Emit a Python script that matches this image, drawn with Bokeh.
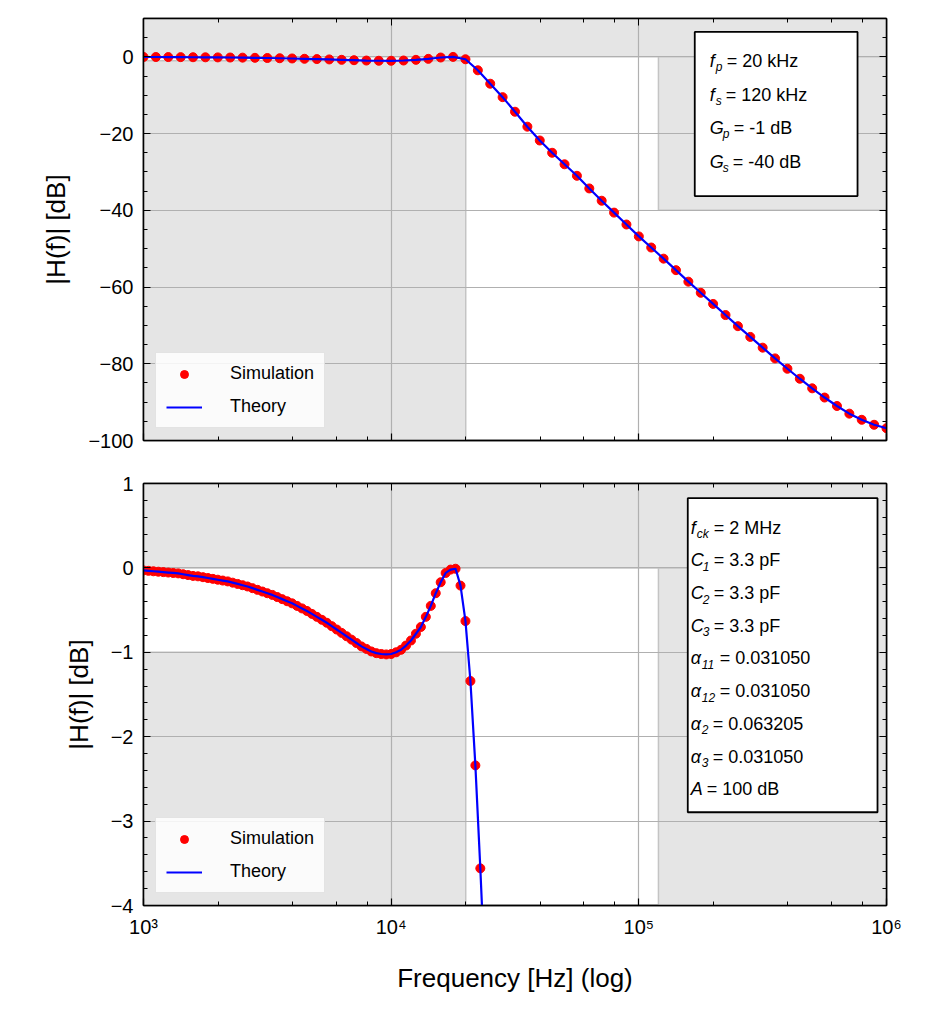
import numpy as np
from bokeh.plotting import figure
from bokeh.layouts import column
from bokeh.models import (Range1d, LinearAxis, LogAxis, LogTicker, SingleIntervalTicker,
                          CustomJSTickFormatter, Label, BoxAnnotation, Legend, LegendItem)
from bokeh.embed import file_html
from bokeh.resources import INLINE

FONT = "Liberation Sans"

# ---- data ----
# top panel: 20 points per decade, 1 kHz .. 1 MHz
top_logf = [3 + i / 20 for i in range(61)]
top_db = [-0.03, -0.04, -0.055, -0.07, -0.095, -0.115, -0.14, -0.17, -0.205, -0.25,
          -0.30, -0.36, -0.42, -0.50, -0.58, -0.67, -0.77, -0.87, -0.96, -1.015,
          -1.02, -0.95, -0.78, -0.52, -0.17, -0.01, -0.63, -3.5, -7.0, -10.5,
          -14.3, -18.2, -21.8, -25.0, -28.0, -31.0, -34.3, -37.5, -40.6, -43.7,
          -46.8, -49.7, -52.6, -55.6, -58.6, -61.5, -64.4, -67.3, -70.2, -73.0,
          -75.8, -78.6, -81.3, -83.9, -86.4, -88.8, -91.0, -93.0, -94.6, -95.9, -96.8]
# bottom panel: 50 points per decade, passband detail
bot_logf = [3 + k / 50 for k in range(69)]
bot_db = [-0.03, -0.035, -0.04, -0.045, -0.05, -0.055, -0.06, -0.065, -0.075, -0.085,
          -0.095, -0.10, -0.11, -0.12, -0.13, -0.14, -0.15, -0.16, -0.175, -0.19,
          -0.205, -0.22, -0.24, -0.26, -0.28, -0.30, -0.32, -0.345, -0.37, -0.395,
          -0.42, -0.45, -0.48, -0.51, -0.545, -0.58, -0.615, -0.65, -0.69, -0.73,
          -0.77, -0.81, -0.85, -0.89, -0.93, -0.96, -0.99, -1.01, -1.02, -1.025,
          -1.02, -1.0, -0.97, -0.92, -0.86, -0.78, -0.70, -0.58, -0.45, -0.30,
          -0.17, -0.06, -0.02, -0.01, -0.21, -0.63, -1.34, -2.34, -3.56]
bot_theory_logf = bot_logf + [3 + 69 / 50, 3 + 70 / 50]
bot_theory_db = bot_db + [-4.9, -6.5]

top_f = [10 ** v for v in top_logf]
bot_f = [10 ** v for v in bot_logf]
bot_tf = [10 ** v for v in bot_theory_logf]

top_info = [("f", "p", "=  20 kHz"), ("f", "s", "=  120 kHz"),
            ("G", "p", "=  -1 dB"), ("G", "s", "=  -40 dB")]
bot_info = [("f", "ck", "=  2 MHz"), ("C", "1", "=  3.3 pF"), ("C", "2", "=  3.3 pF"),
            ("C", "3", "=  3.3 pF"), ("α", "11", "=  0.031050"), ("α", "12", "=  0.031050"),
            ("α", "2", "=  0.063205"), ("α", "3", "=  0.031050"), ("A", "", "=  100 dB")]

GRAY = "#e5e5e5"
EDGE = "#c4c4c4"

xfmt = CustomJSTickFormatter(code="""
const sup = {'0':'\u2070','1':'\u00b9','2':'\u00b2','3':'\u00b3','4':'\u2074','5':'\u2075','6':'\u2076','7':'\u2077','8':'\u2078','9':'\u2079'};
const e = Math.round(Math.log10(tick));
return '10' + String(e).split('').map(c => sup[c]).join('');
""")
yfmt_code = "return tick < 0 ? '\u2212' + Math.abs(tick) : String(tick);"


def style(p, ytick, yminor, show_x):
    p.outline_line_color = "black"
    p.outline_line_width = 1.5
    p.background_fill_color = "white"
    p.xgrid.grid_line_color = "#b0b0b0"
    p.ygrid.grid_line_color = "#b0b0b0"
    p.xgrid.grid_line_width = 1.2
    p.ygrid.grid_line_width = 1.2
    p.yaxis.ticker = SingleIntervalTicker(interval=ytick, num_minor_ticks=yminor)
    p.ygrid.ticker = p.yaxis[0].ticker
    p.yaxis.formatter = CustomJSTickFormatter(code=yfmt_code)
    p.xaxis.ticker = LogTicker()
    p.xaxis.formatter = xfmt
    for ax in p.xaxis + p.yaxis:
        ax.major_tick_in = 7
        ax.major_tick_out = 0
        ax.minor_tick_in = 4
        ax.minor_tick_out = 0
        ax.axis_line_color = "black"
        ax.axis_line_width = 1.5
        ax.major_tick_line_width = 1.2
        ax.major_label_text_font = FONT
        ax.major_label_text_font_size = "20px"
        ax.major_label_text_color = "black"
        ax.major_label_standoff = 10
        ax.axis_label_text_font = FONT
        ax.axis_label_text_font_size = "26px"
        ax.axis_label_text_font_style = "normal"
        ax.axis_label_text_color = "black"
        ax.axis_label_standoff = 14
    if not show_x:
        p.xaxis.major_label_text_color = None
    ra = LinearAxis(ticker=SingleIntervalTicker(interval=ytick, num_minor_ticks=yminor),
                    major_label_text_color=None, major_tick_in=7, major_tick_out=0,
                    minor_tick_in=4, minor_tick_out=0, axis_line_width=1.5)
    ta = LogAxis(ticker=LogTicker(), major_label_text_color=None, major_tick_in=7,
                 major_tick_out=0, minor_tick_in=4, minor_tick_out=0, axis_line_width=1.5)
    p.add_layout(ra, "right")
    p.add_layout(ta, "above")


def add_info(p, items, x0, y0, dy, box):
    l, r, t, b = box
    p.add_layout(BoxAnnotation(left=l, right=r, top=t, bottom=b, fill_color="white",
                               fill_alpha=1, line_color="black", line_alpha=1,
                               line_width=1.8, level="overlay"))
    widths = {"f": 6, "G": 13, "C": 12, "α": 11, "A": 12}
    subw = {"p": 7, "s": 6, "ck": 13, "1": 7, "2": 7, "3": 7, "11": 14, "12": 14, "": 0}
    for i, (m, s, rest) in enumerate(items):
        y = y0
        yo = -i * dy
        p.add_layout(Label(x=x0, y=y, y_offset=yo, text=m, text_font=FONT, text_font_size="18px",
                           text_font_style="italic", text_baseline="middle", text_color="black",
                           level="overlay"))
        wm = widths[m]
        if s:
            p.add_layout(Label(x=x0, y=y, x_offset=wm, y_offset=yo - 6, text=s, text_font=FONT,
                               text_font_size="12px", text_font_style="italic", text_color="black",
                               text_baseline="middle", level="overlay"))
        p.add_layout(Label(x=x0, y=y, x_offset=wm + subw[s] + 4, y_offset=yo, text=rest,
                           text_font=FONT, text_font_size="18px", text_baseline="middle",
                           text_color="black", level="overlay"))


def lf(px):
    return 10 ** (3 + (px - 143) / 248)


def legend(p, r1, r2):
    lg = Legend(items=[LegendItem(label="Simulation", renderers=[r1]),
                       LegendItem(label="Theory", renderers=[r2])],
                location="bottom_left", label_text_font=FONT, label_text_font_size="18px",
                label_text_color="black",
                background_fill_color="white", background_fill_alpha=0.85,
                border_line_color="#cccccc", border_line_width=1, spacing=12, padding=10,
                margin=12, glyph_width=36, label_standoff=28)
    p.add_layout(lg)


# ---- top figure ----
p1 = figure(width=910, height=470, x_axis_type="log", x_range=Range1d(1e3, 1e6),
            y_range=Range1d(-100, 10), output_backend="svg", toolbar_location=None,
            min_border_left=143, min_border_right=24, min_border_top=18, min_border_bottom=30)
style(p1, 20, 4, False)
p1.left[0].axis_label = "|H(f)| [dB]"
p1.quad(left=[1e3, 1e3, 1.2e5], right=[1e6, 2e4, 1e6], top=[10, -1, 0], bottom=[0, -100, -40],
        fill_color=GRAY, line_color=EDGE, line_width=1.5, level="underlay")
s1 = p1.scatter(top_f, top_db, size=9, color="red")
t1 = p1.line(top_f, top_db, line_color="blue", line_width=2.2)
legend(p1, s1, t1)
add_info(p1, top_info, lf(710), -1.2, 33.5, (lf(695), lf(858), 6.5, -36.3))

# ---- bottom figure ----
p2 = figure(width=910, height=525, x_axis_type="log", x_range=p1.x_range,
            y_range=Range1d(-4, 1), output_backend="svg", toolbar_location=None,
            min_border_left=143, min_border_right=24, min_border_top=13, min_border_bottom=90)
style(p2, 1, 5, True)
p2.left[0].axis_label = "|H(f)| [dB]"
p2.below[0].axis_label = "Frequency [Hz] (log)"
p2.below[0].axis_label_standoff = 22
p2.quad(left=[1e3, 1e3, 1.2e5], right=[1e6, 2e4, 1e6], top=[1, -1, 0], bottom=[0, -4, -4],
        fill_color=GRAY, line_color=EDGE, line_width=1.5, level="underlay")
s2 = p2.scatter(bot_f, bot_db, size=9, color="red")
t2 = p2.line(bot_tf, bot_theory_db, line_color="blue", line_width=2.2)
legend(p2, s2, t2)
add_info(p2, bot_info, lf(691), -(526 - 567) / 86, 32.7, (lf(688), lf(878), -(496 - 567) / 86, -(816 - 567) / 86))

layout = column(p1, p2, spacing=0)
open("out.html", "w").write(file_html(layout, INLINE))
